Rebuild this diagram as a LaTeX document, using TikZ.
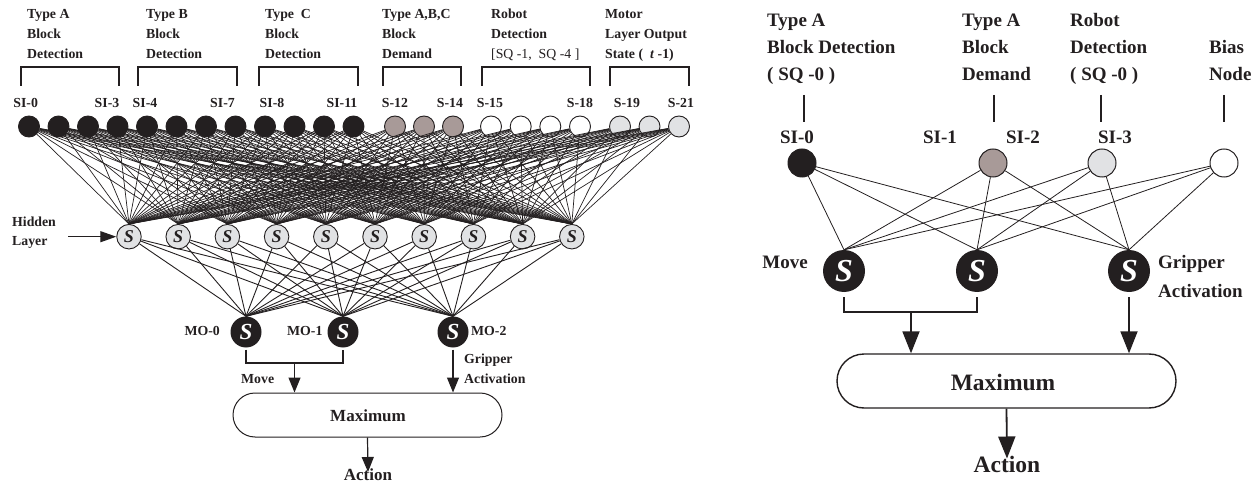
\documentclass[tikz,border=0pt]{standalone}
\usepackage{fontspec}
\setmainfont{Liberation Serif}
\usetikzlibrary{arrows.meta}
\definecolor{nblack}{HTML}{231F20}
\definecolor{ngray}{HTML}{A89A98}
\definecolor{nlight}{HTML}{E1E2E4}
\tikzset{
  inpt/.style={circle, draw=nblack, line width=0.9pt, minimum size=21pt, inner sep=0pt},
  hid/.style={circle, draw=nblack, fill=nlight, line width=0.9pt, minimum size=24.5pt, inner sep=0pt,
     font=\fontsize{18}{18}\selectfont\bfseries\itshape, text=nblack},
  outl/.style={circle, fill=nblack, minimum size=31pt, inner sep=0pt,
     font=\fontsize{23}{23}\selectfont\bfseries\itshape, text=white},
  rin/.style={circle, draw=nblack, line width=1pt, minimum size=28pt, inner sep=0pt},
  rout/.style={circle, fill=nblack, minimum size=42pt, inner sep=0pt,
     font=\fontsize{32}{32}\selectfont\bfseries\itshape, text=white},
  lt/.style={inner sep=0pt, font=\fontsize{13.8}{16}\selectfont\bfseries, text=nblack},
  ltn/.style={inner sep=0pt, font=\fontsize{13.8}{16}\selectfont, text=nblack},
  lbig/.style={inner sep=0pt, font=\fontsize{17}{20}\selectfont\bfseries, text=nblack},
  rt/.style={inner sep=0pt, font=\fontsize{19}{22}\selectfont\bfseries, text=nblack},
  rbig/.style={inner sep=0pt, font=\fontsize{23.5}{26}\selectfont\bfseries, text=nblack},
  conn/.style={draw=nblack, line width=0.7pt},
  hconn/.style={draw=nblack, line width=0.9pt},
  rconn/.style={draw=nblack, line width=0.8pt},
  brk/.style={draw=nblack, line width=1.2pt},
  rbrk/.style={draw=nblack, line width=1.8pt},
  larr/.style={draw=nblack, line width=1.2pt, -{Triangle[length=15pt,width=12pt]}},
  rarr/.style={draw=nblack, line width=1.8pt, -{Triangle[length=22pt,width=17pt]}},
  lbox/.style={draw=nblack, line width=1pt, rounded corners=22pt, minimum width=269pt, minimum height=44pt, inner sep=0pt},
  rbox/.style={draw=nblack, line width=1.4pt, rounded corners=27pt, minimum width=339pt, minimum height=54pt, inner sep=0pt},
}
\begin{document}
\begin{tikzpicture}[x=1pt,y=-1pt]
\useasboundingbox (0,0) rectangle (1260,486);

% ================= LEFT DIAGRAM =================
% titles
\node[lt, anchor=base west] (tA1) at (27,19) {Type A};
\node[lt, anchor=base west] (tA2) at (27,39) {Block};
\node[lt, anchor=base west] (tA3) at (27,59) {Detection};
\node[lt, anchor=base west] (tB1) at (146,19) {Type B};
\node[lt, anchor=base west] (tB2) at (146,39) {Block};
\node[lt, anchor=base west] (tB3) at (146,59) {Detection};
\node[lt, anchor=base west] (tC1) at (265,19) {Type\ \ C};
\node[lt, anchor=base west] (tC2) at (265,39) {Block};
\node[lt, anchor=base west] (tC3) at (265,59) {Detection};
\node[lt, anchor=base west] (tD1) at (382,19) {Type A,B,C};
\node[lt, anchor=base west] (tD2) at (382,39) {Block};
\node[lt, anchor=base west] (tD3) at (382,59) {Demand};
\node[lt, anchor=base west] (tE1) at (491,19) {Robot};
\node[lt, anchor=base west] (tE2) at (491,39) {Detection};
\node[ltn, anchor=base west] (tE3) at (491,59) {[SQ -1,\ \ SQ -4 ]};
\node[lt, anchor=base west] (tF1) at (605,19) {Motor};
\node[lt, anchor=base west] (tF2) at (605,39) {Layer Output};
\node[lt, anchor=base west] (tF3) at (605,59) {State (\ \ \textit{t} -1)};

% brackets
\foreach \a/\b in {21/119, 138/237, 259/358, 383/461, 482/590, 610/689}{
  \draw[brk] (\a,86) -- (\a,67) -- (\b,67) -- (\b,86);
}

% input labels
\foreach \x/\t in {25.7/SI-0, 107/SI-3, 145/SI-4, 222.5/SI-7, 272/SI-8, 342/SI-11,
                   395/S-12, 450/S-14, 490/S-15, 580/S-18, 627/S-19, 681/S-21}{
  \node[lt, anchor=base] (lab\t) at (\x,108) {\t};
}

% input nodes
\foreach \i/\x/\c in {0/29/nblack, 1/58.5/nblack, 2/88/nblack, 3/117.5/nblack,
                      4/147/nblack, 5/176.5/nblack, 6/206/nblack, 7/235.5/nblack,
                      8/265/nblack, 9/294.5/nblack, 10/324/nblack, 11/353.5/nblack,
                      12/395/ngray, 13/424/ngray, 14/453/ngray,
                      15/491/white, 16/520.7/white, 17/550.3/white, 18/580/white,
                      19/620/nlight, 20/649.5/nlight, 21/679/nlight}{
  \node[inpt, fill=\c] (i\i) at (\x,126.5) {};
}

% hidden nodes
\foreach \j in {0,...,9}{
  \node[hid] (h\j) at ({129+49.2*\j},236.7) {S};
}

% output nodes
\node[outl] (o0) at (246,332) {S};
\node[outl] (o1) at (343,332) {S};
\node[outl] (o2) at (453,332) {S};

% connections input -> hidden
\foreach \i in {0,...,21}{
  \foreach \j in {0,...,9}{
    \draw[conn] (i\i) -- (h\j.north);
  }
}
% connections hidden -> output
\foreach \j in {0,...,9}{
  \foreach \k in {0,1,2}{
    \draw[hconn] (h\j) -- (o\k.north);
  }
}

% hidden layer label
\node[lt, anchor=base west] (hl1) at (12,227) {Hidden};
\node[lt, anchor=base west] (hl2) at (12,246) {Layer};
\coordinate (hla) at (68,236.7);
\draw[draw=nblack, line width=1.2pt, -{Triangle[length=16pt,width=11pt]}] (hla) -- (h0);

% output labels
\node[lt, anchor=base east] (mo0) at (220,335) {MO-0};
\node[lt, anchor=base west] (mo1) at (287,335) {MO-1};
\node[lt, anchor=base west] (mo2) at (471,335) {MO-2};

% maximum box
\node[lbox] (lmax) at (367.5,415) {};
\node[lbig] (lmaxt) at (368,415.5) {Maximum};

% move bracket and arrows
\coordinate (lbm) at (294.5,363);
\draw[brk] ([yshift=-2pt]o0.south) -- (246,363) -- (343,363) -- ([yshift=-2pt]o1.south);
\draw[larr] (lbm) -- (lbm |- lmax.north);
\draw[larr] ([yshift=-2pt]o2.south) -- (o2.south |- lmax.north);
\node[lt, anchor=base west] (lmove) at (241,383) {Move};
\node[lt, anchor=base west] (lgr1) at (464,363) {Gripper};
\node[lt, anchor=base west] (lgr2) at (464,383) {Activation};

% action
\node[lbig, anchor=base] (lact) at (368,480) {Action};
\draw[larr] (lmax.south) -- ([yshift=-4pt]lact.north);

% ================= RIGHT DIAGRAM =================
\node[rt, anchor=base west] (rA1) at (767,27) {Type A};
\node[rt, anchor=base west] (rA2) at (767,54) {Block Detection};
\node[rt, anchor=base west] (rA3) at (767,81) {( SQ -0 )};
\node[rt, anchor=base west] (rB1) at (962,27) {Type A};
\node[rt, anchor=base west] (rB2) at (962,54) {Block};
\node[rt, anchor=base west] (rB3) at (962,81) {Demand};
\node[rt, anchor=base west] (rC1) at (1070,27) {Robot};
\node[rt, anchor=base west] (rC2) at (1070,54) {Detection};
\node[rt, anchor=base west] (rC3) at (1070,81) {( SQ -0 )};
\node[rt, anchor=base west] (rD2) at (1209,54) {Bias};
\node[rt, anchor=base west] (rD3) at (1209,81) {Node};

% input nodes
\node[rin, fill=nblack] (r0) at (802,163) {};
\node[rin, fill=ngray] (r1) at (993,163) {};
\node[rin, fill=nlight] (r2) at (1102,163) {};
\node[rin, fill=white] (r3) at (1224,163) {};

% vertical ticks
\foreach \n/\x in {0/804, 1/994, 2/1101, 3/1224}{
  \coordinate (rt\n a) at (\x,95);
  \coordinate (rt\n b) at (\x,122);
  \draw[draw=nblack, line width=1.2pt] (rt\n a) -- (rt\n b);
}

% input labels
\node[rt, anchor=base] (rl0) at (797,144) {SI-0};
\node[rt, anchor=base] (rl1) at (940,144) {SI-1};
\node[rt, anchor=base] (rl2) at (1023,144) {SI-2};
\node[rt, anchor=base] (rl3) at (1115,144) {SI-3};

% output nodes
\node[rout] (ro0) at (844,271) {S};
\node[rout] (ro1) at (977,271) {S};
\node[rout] (ro2) at (1129,271) {S};

% connections
\foreach \i in {0,...,3}{
  \foreach \k in {0,1,2}{
    \draw[rconn] (r\i) -- (ro\k.north);
  }
}

\node[rt, anchor=base east] (rmove) at (808,269) {Move};
\node[rt, anchor=base west] (rgr1) at (1158,269) {Gripper};
\node[rt, anchor=base west] (rgr2) at (1158,297) {Activation};

% maximum box
\node[rbox] (rmax) at (1006.5,381) {};
\node[rbig] (rmaxt) at (1003,382) {Maximum};

\coordinate (rbm) at (911,312);
\draw[rbrk] ([yshift=-5pt]ro0.south) -- (844,312) -- (977,312) -- ([yshift=-5pt]ro1.south);
\draw[rarr] (rbm) -- (rbm |- rmax.north);
\draw[rarr] ([yshift=-5pt]ro2.south) -- (ro2.south |- rmax.north);

\node[rbig, anchor=base] (ract) at (1007,472) {Action};
\draw[rarr] (rmax.south) -- ([yshift=-3pt]ract.north);
\end{tikzpicture}
\end{document}
